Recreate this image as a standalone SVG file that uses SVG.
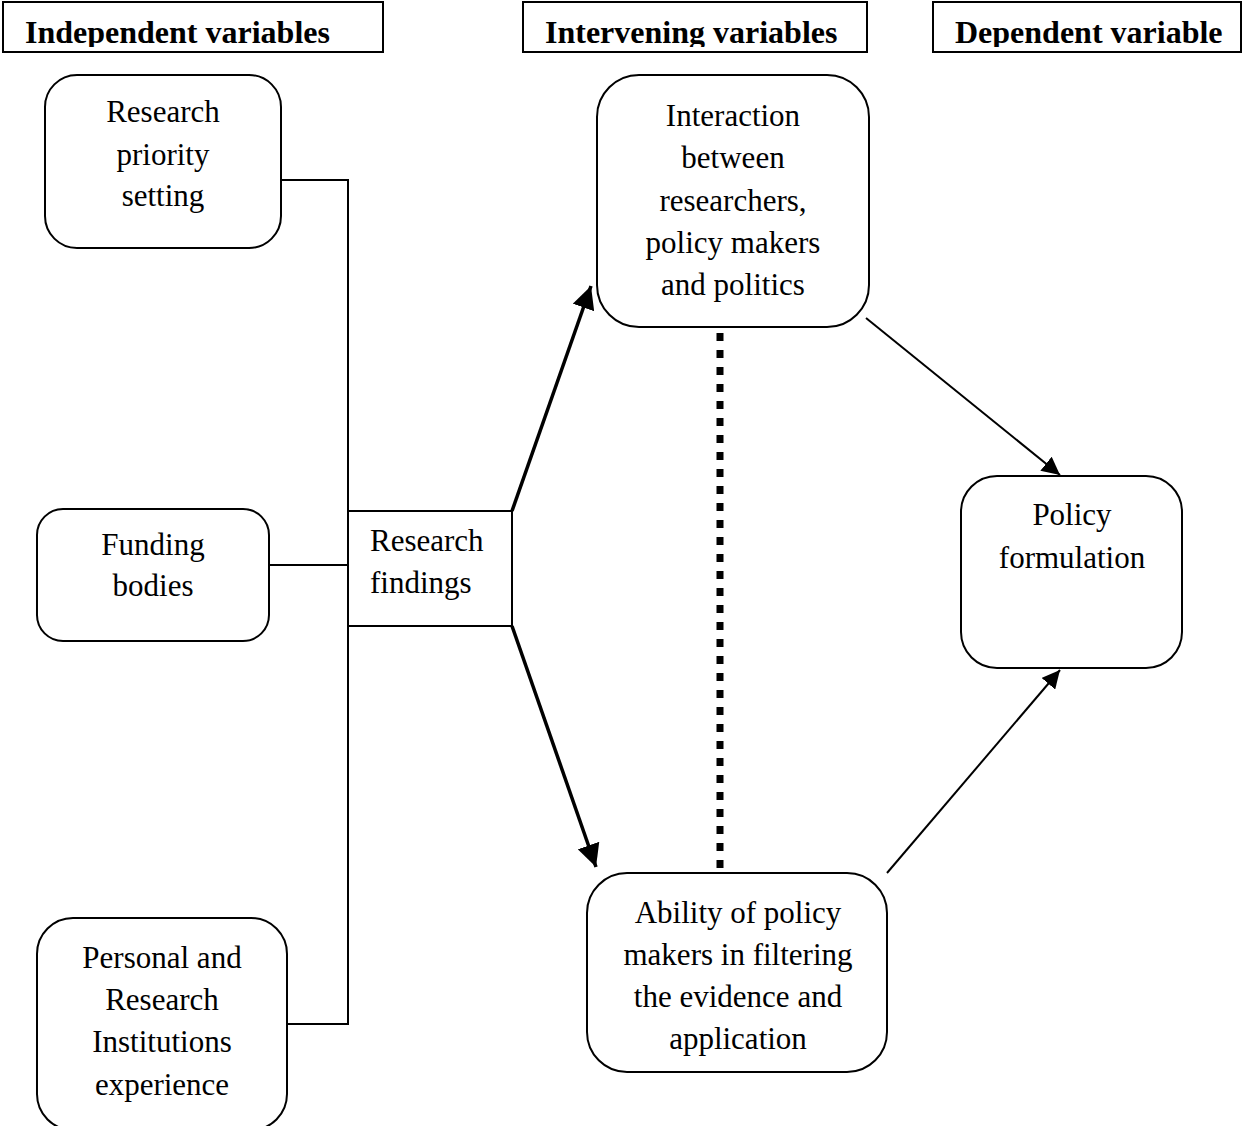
<svg xmlns="http://www.w3.org/2000/svg" width="1246" height="1126" viewBox="0 0 1246 1126">
<style>
.box{fill:#fff;stroke:#000;stroke-width:2}
.t{font-family:"Liberation Serif","Times New Roman",serif;font-size:31px;fill:#000}
.h{font-family:"Liberation Serif","Times New Roman",serif;font-size:32px;font-weight:bold;fill:#000}
.c{text-anchor:middle}
.ln{fill:none;stroke:#000;stroke-width:2}
.thick{fill:none;stroke:#000;stroke-width:3.5}
</style>
<defs>
<marker id="ah" viewBox="0 0 10 10" refX="10" refY="5" markerWidth="6.5" markerHeight="6.5" markerUnits="strokeWidth" orient="auto"><path d="M0,0 L10,5 L0,10 z" fill="#000"/></marker>
<marker id="ahs" viewBox="0 0 10 10" refX="10" refY="5" markerWidth="9" markerHeight="9" markerUnits="strokeWidth" orient="auto"><path d="M0,0 L10,5 L0,10 z" fill="#000"/></marker>
<clipPath id="c1"><rect x="3" y="2" width="380" height="45"/></clipPath>
<clipPath id="c2"><rect x="523" y="2" width="344" height="45"/></clipPath>
<clipPath id="c3"><rect x="933" y="2" width="308" height="45"/></clipPath>
</defs>
<g id="header-independent">
<rect class="box" x="3" y="2" width="380" height="50"/>
<text class="h" x="25" y="43" clip-path="url(#c1)">Independent variables</text>
</g>
<g id="header-intervening">
<rect class="box" x="523" y="2" width="344" height="50"/>
<text class="h" x="545" y="43" clip-path="url(#c2)">Intervening variables</text>
</g>
<g id="header-dependent">
<rect class="box" x="933" y="2" width="308" height="50"/>
<text class="h" x="955" y="43" clip-path="url(#c3)">Dependent variable</text>
</g>
<g id="connectors">
<path class="ln" d="M281,180 H348 V1024 H287"/>
<path class="ln" d="M269,565 H348"/>
<path class="thick" d="M512,511 L591,286" marker-end="url(#ah)"/>
<path class="thick" d="M512,626 L596,867" marker-end="url(#ah)"/>
<path d="M720,333 V870" stroke="#000" stroke-width="7" stroke-dasharray="8 9" fill="none"/>
<path class="ln" d="M866,318 L1060,475" marker-end="url(#ahs)"/>
<path class="ln" d="M887,873 L1060,670" marker-end="url(#ahs)"/>
</g>
<g id="node-priority">
<rect class="box" x="45" y="75" width="236" height="173" rx="32"/>
<text class="t c" x="163" y="122">Research</text>
<text class="t c" x="163" y="165">priority</text>
<text class="t c" x="163" y="206">setting</text>
</g>
<g id="node-funding">
<rect class="box" x="37" y="509" width="232" height="132" rx="26"/>
<text class="t c" x="153" y="555">Funding</text>
<text class="t c" x="153" y="596">bodies</text>
</g>
<g id="node-personal">
<rect class="box" x="37" y="918" width="250" height="212" rx="36"/>
<text class="t c" x="162" y="968">Personal and</text>
<text class="t c" x="162" y="1010">Research</text>
<text class="t c" x="162" y="1052">Institutions</text>
<text class="t c" x="162" y="1095">experience</text>
</g>
<g id="node-findings">
<rect class="box" x="348" y="511" width="164" height="115"/>
<text class="t" x="370" y="551">Research</text>
<text class="t" x="370" y="593">findings</text>
</g>
<g id="node-interaction">
<rect class="box" x="597" y="75" width="272" height="252" rx="42"/>
<text class="t c" x="733" y="126">Interaction</text>
<text class="t c" x="733" y="168">between</text>
<text class="t c" x="733" y="211">researchers,</text>
<text class="t c" x="733" y="253">policy makers</text>
<text class="t c" x="733" y="295">and politics</text>
</g>
<g id="node-ability">
<rect class="box" x="587" y="873" width="300" height="199" rx="40"/>
<text class="t c" x="738" y="923">Ability of policy</text>
<text class="t c" x="738" y="965">makers in filtering</text>
<text class="t c" x="738" y="1007">the evidence and</text>
<text class="t c" x="738" y="1049">application</text>
</g>
<g id="node-policy">
<rect class="box" x="961" y="476" width="221" height="192" rx="36"/>
<text class="t c" x="1072" y="525">Policy</text>
<text class="t c" x="1072" y="568">formulation</text>
</g>
</svg>
